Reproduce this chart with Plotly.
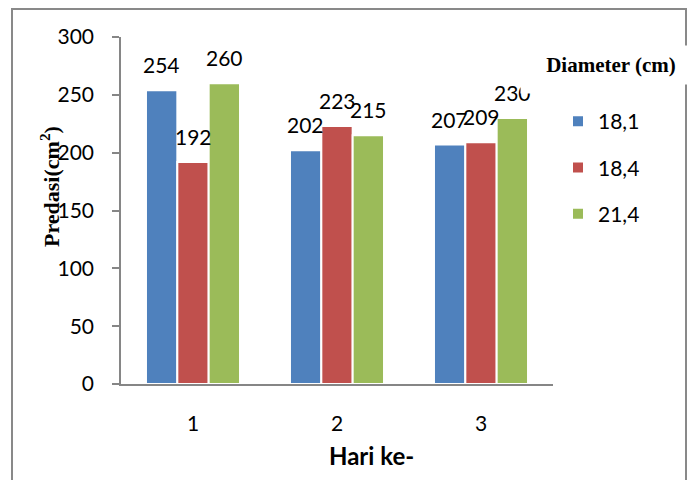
import plotly.graph_objects as go

categories = ["1", "2", "3"]
series_names = ["18,1", "18,4", "21,4"]
values_181 = [254, 202, 207]
values_184 = [192, 223, 209]
values_214 = [260, 215, 230]
colors = ["#4F81BD", "#C0504D", "#9BBB59"]
y_ticks = [0, 50, 100, 150, 200, 250, 300]

all_series = [values_181, values_184, values_214]

# page has an 8px body margin: the figure is drawn 8px down/right
OFF = 8
W, H = 695 - 2 * OFF, 488 - 2 * OFF
ML, MT = 121 - OFF, 37 - OFF
MR = W - (553 - OFF)
MB = H - (384 - OFF)
PW = W - ML - MR
PH = H - MT - MB
BARGAP = 0.347

def px_x(px):
    return (px - OFF - ML) / PW

def px_y(py):
    return (H - MB - (py - OFF)) / PH

fig = go.Figure()
for j, (name, vals) in enumerate(zip(series_names, all_series)):
    fig.add_trace(go.Bar(
        x=categories, y=vals, name=name,
        marker=dict(color=colors[j], line=dict(color="white", width=2)),
        legendgroup=name,
    ))

LABEL_FONT = dict(family="Lato", size=21, color="black")
annotations = []
slot = (1 - BARGAP) / 3
for j, vals in enumerate(all_series):
    for i, v in enumerate(vals):
        annotations.append(dict(
            x=i + (j - 1) * slot, y=v, xref="x", yref="y",
            text=str(v), showarrow=False, yanchor="bottom",
            yshift=11, font=LABEL_FONT,
        ))

# y title
annotations.append(dict(
    x=px_x(50), y=px_y(187), xref="paper", yref="paper",
    text="<b>Predasi(cm<sup>2</sup>)</b>", textangle=-90, showarrow=False,
    font=dict(family="Liberation Serif", size=22, color="black"),
    xanchor="center", yanchor="middle",
))
# x title
annotations.append(dict(
    x=px_x(371), y=px_y(455), xref="paper", yref="paper",
    text="<b>Hari ke-</b>", showarrow=False,
    font=dict(family="Lato", size=24, color="black"),
    xanchor="center", yanchor="middle",
))
# small white patch that clips the top of the last value label (as in the chart)
annotations.append(dict(
    x=px_x(520), y=px_y(82), xref="paper", yref="paper",
    text=" ", showarrow=False, xanchor="left", yanchor="top",
    width=30, height=10, bgcolor="white", borderpad=0,
    font=dict(size=6),
))
# legend title (white box also cuts the border)
annotations.append(dict(
    x=px_x(520), y=px_y(45), xref="paper", yref="paper",
    text="<b>Diameter (cm)</b>", showarrow=False,
    font=dict(family="Liberation Serif", size=21, color="black"),
    xanchor="left", yanchor="top", width=180, height=38,
    bgcolor="white", borderpad=0, align="center",
))

shapes = [dict(
    type="rect", xref="paper", yref="paper",
    x0=px_x(12), x1=px_x(686), y0=px_y(520), y1=px_y(9),
    line=dict(color="#898989", width=2), layer="below",
)]

fig.update_layout(
    width=W, height=H,
    margin=dict(l=ML, r=MR, t=MT, b=MB, pad=0),
    paper_bgcolor="white", plot_bgcolor="white",
    barmode="group", bargap=BARGAP, bargroupgap=0,
    showlegend=True,
    legend=dict(
        x=px_x(558), y=px_y(101), xanchor="left", yanchor="top",
        font=dict(family="Lato", size=21, color="black"),
        traceorder="grouped", tracegroupgap=16, bgcolor="rgba(0,0,0,0)",
    ),
    annotations=annotations,
    shapes=shapes,
    xaxis=dict(
        type="category", showline=True, linecolor="#868686", linewidth=1.5,
        ticks="", showgrid=False, zeroline=False,
        tickfont=dict(family="Lato", size=21, color="black"),
        ticklabelstandoff=20,
    ),
    yaxis=dict(
        range=[0, 300], tickvals=y_ticks, showline=True, linecolor="#868686",
        linewidth=1.5, ticks="outside", ticklen=7, tickcolor="#868686",
        tickwidth=1.5, showgrid=False, zeroline=False,
        tickfont=dict(family="Lato", size=21, color="black"),
        ticklabelstandoff=14,
    ),
)

fig.write_html("out.html")
